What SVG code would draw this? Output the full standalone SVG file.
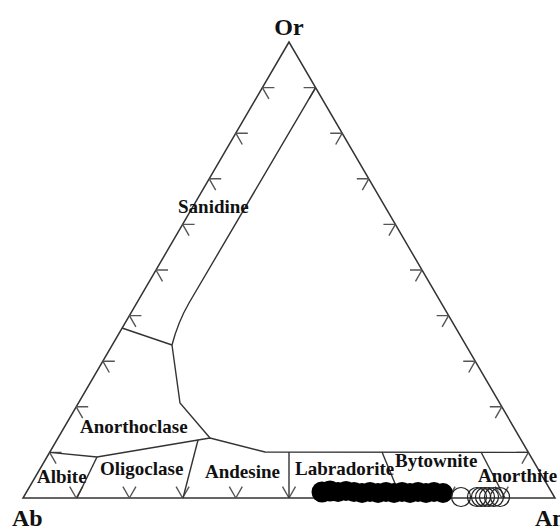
<svg xmlns="http://www.w3.org/2000/svg" width="560" height="530" viewBox="0 0 560 530">
<style>
.ax{fill:none;stroke:#333;stroke-width:1.5}
.bd{fill:none;stroke:#333;stroke-width:1.4}
.tk{fill:none;stroke:#555;stroke-width:1.4}
.lb{font-family:"Liberation Serif","Times New Roman",serif;font-weight:bold;font-size:19px;fill:#111}
.vx{font-family:"Liberation Serif","Times New Roman",serif;font-weight:bold;font-size:24px;fill:#111}
.fd{fill:#000}
.op{fill:none;stroke:#222;stroke-width:1.2}
</style>
<defs>
<path id="tl" d="M0,0 h12 M0,0 l6.5,11.3"/>
<path id="tr" d="M0,0 h-12 M0,0 l-6.5,11.3"/>
<path id="tb" d="M0,0 l-6.5,-11.3 M0,0 l6.5,-11.3"/>
</defs>
<rect width="560" height="530" fill="#fff"/>
<g id="frame">
<polygon class="ax" points="289,42 23,498 555,498"/>
</g>
<g id="ticks" class="tk">
<use href="#tl" x="262.4" y="87.6"/><use href="#tl" x="235.8" y="133.2"/><use href="#tl" x="209.2" y="178.8"/><use href="#tl" x="182.6" y="224.4"/><use href="#tl" x="156" y="270"/><use href="#tl" x="129.4" y="315.6"/><use href="#tl" x="102.8" y="361.2"/><use href="#tl" x="76.2" y="406.8"/><use href="#tl" x="49.6" y="452.4"/>
<use href="#tr" x="315.6" y="87.6"/><use href="#tr" x="342.2" y="133.2"/><use href="#tr" x="368.8" y="178.8"/><use href="#tr" x="395.4" y="224.4"/><use href="#tr" x="422" y="270"/><use href="#tr" x="448.6" y="315.6"/><use href="#tr" x="475.2" y="361.2"/><use href="#tr" x="501.8" y="406.8"/><use href="#tr" x="528.4" y="452.4"/>
<use href="#tb" x="76.2" y="498"/><use href="#tb" x="129.4" y="498"/><use href="#tb" x="182.6" y="498"/><use href="#tb" x="235.8" y="498"/><use href="#tb" x="289" y="498"/><use href="#tb" x="342.2" y="498"/><use href="#tb" x="395.4" y="498"/><use href="#tb" x="448.6" y="498"/><use href="#tb" x="501.8" y="498"/>
</g>
<g id="boundaries" class="bd">
<path d="M315.6,87.6 L189,303 Q178,322 172,345"/>
<path d="M122,328 L172,345"/>
<path d="M172,345 L180,403 L210,438"/>
<path d="M49.6,452.4 L97,457 L198,440 L210,438 L265,452 L528.4,452.4"/>
<path d="M97,457 L77,498"/>
<path d="M198,440 L183,498"/>
<path d="M289,452 L289,498"/>
<path d="M382,452 L401,498"/>
<path d="M481,452 L505,498"/>
</g>
<g id="data">
<g class="fd">
<circle cx="322" cy="492" r="10.5"/><circle cx="330" cy="491" r="10.5"/><circle cx="338" cy="492" r="10"/><circle cx="346" cy="491" r="10"/><circle cx="354" cy="492" r="10"/><circle cx="362" cy="493" r="10"/><circle cx="370" cy="492" r="10"/><circle cx="378" cy="493" r="10"/><circle cx="386" cy="492" r="10"/><circle cx="394" cy="493" r="10"/><circle cx="402" cy="492" r="10"/><circle cx="410" cy="493" r="10"/><circle cx="418" cy="492" r="10"/><circle cx="426" cy="493" r="10"/><circle cx="434" cy="492" r="10"/><circle cx="443" cy="493" r="10"/>
</g>
<g class="op">
<circle cx="461" cy="497" r="9.5"/><circle cx="477" cy="497" r="9.5"/><circle cx="481" cy="497" r="9.5"/><circle cx="485" cy="497" r="9.5"/><circle cx="489" cy="497" r="9.5"/><circle cx="494" cy="497" r="9.5"/><circle cx="500" cy="497" r="9.5"/>
</g>
</g>
<g id="labels">
<text class="vx" x="289" y="35" text-anchor="middle">Or</text>
<text class="vx" x="12" y="526">Ab</text>
<text class="vx" x="535" y="526">An</text>
<text class="lb" x="178" y="213">Sanidine</text>
<text class="lb" x="80" y="433">Anorthoclase</text>
<text class="lb" x="37" y="483">Albite</text>
<text class="lb" x="100" y="475">Oligoclase</text>
<text class="lb" x="205" y="478">Andesine</text>
<text class="lb" x="295" y="475">Labradorite</text>
<text class="lb" x="395" y="467">Bytownite</text>
<text class="lb" x="478" y="482">Anorthite</text>
</g>
</svg>
